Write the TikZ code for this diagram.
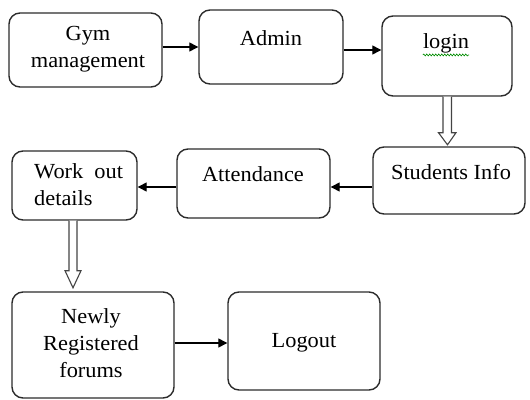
\documentclass[tikz,border=0pt]{standalone}
\usepackage{fontspec}
\setmainfont{Liberation Serif}
\usetikzlibrary{calc,arrows.meta,decorations.pathmorphing}
\definecolor{edge}{HTML}{2B2B2B}
\definecolor{dbl}{HTML}{444444}
\begin{document}
\begin{tikzpicture}[x=1pt,y=-1pt,
  box/.style={draw=edge,line width=1.4pt,rounded corners=11pt,inner sep=0pt},
  txt/.style={font=\fontsize{21.5}{27}\selectfont,align=center,inner sep=0pt,text=black,xscale=1.04},
  arr/.style={draw=black,line width=1.3pt,-{Triangle[length=9pt,width=9pt]}},
  dblarrow/.style={draw=dbl,line width=1.1pt,fill=white,line join=miter}]
\useasboundingbox (0,0) rectangle (530,399);
% boxes
\node[box,minimum width=153pt,minimum height=74pt] (gym) at (85.5,50) {};
\node[box,minimum width=144pt,minimum height=74pt] (admin) at (271,47) {};
\node[box,minimum width=130pt,minimum height=80pt] (login) at (447,56) {};
\node[box,minimum width=152pt,minimum height=67pt] (students) at (449,180.5) {};
\node[box,minimum width=153pt,minimum height=69pt] (attendance) at (253.5,183.5) {};
\node[box,minimum width=125pt,minimum height=69pt] (work) at (74.5,185.5) {};
\node[box,minimum width=162pt,minimum height=106pt] (newly) at (93,345) {};
\node[box,minimum width=152pt,minimum height=98pt] (logout) at (304,341) {};
% texts
\node[txt] (tgym) at (88,49) {Gym\\management};
\node[txt] (tadmin) at (271,38) {Admin};
\node[txt] (tlogin) at (446,43) {login};
\node[txt] (tstudents) at (451,172) {Students Info};
\node[txt] (tattendance) at (253,174) {Attendance};
\node[txt,align=left,anchor=west] (twork) at (34,185) {Work\ \ out\\details};
\node[txt] (tnewly) at (91,343) {Newly\\Registered\\forums};
\node[txt] (tlogout) at (304,343) {Logout};
% spell-check squiggle
\draw[green!55!black,line width=0.6pt,decorate,decoration={snake,amplitude=1pt,segment length=3pt}]
  ($(tlogin.south west)+(0,2)$) -- ($(tlogin.south east)+(0,2)$);
% single arrows
\draw[arr] (gym.east |- admin.west) -- (admin.west);
\draw[arr] ([yshift=-3pt]admin.east) -- ([yshift=-3pt]admin.east -| login.west);
\draw[arr] ([yshift=-6.5pt]students.west) -- ([yshift=-6.5pt]students.west -| attendance.east);
\draw[arr] ([yshift=-3.5pt]attendance.west) -- ([yshift=-3.5pt]attendance.west -| work.east);
\draw[arr] ([yshift=2pt]newly.east) -- ([yshift=2pt]newly.east -| logout.west);
% hollow double arrows
\draw[dblarrow] ($(login.south)+(-4,0)$) -- ++(0,36) -- ++(-4.5,0)
  -- ($(login.south |- students.north)+(0.5,-1.5)$)
  -- ($(login.south)+(9,36)$) -- ++(-4.5,0) -- ($(login.south)+(4.5,0)$);
\draw[dblarrow] ($(work.south)+(-5.5,0)$) -- ++(0,50) -- ++(-4,0)
  -- ($(work.south |- newly.north)+(-1.5,-3.5)$)
  -- ($(work.south)+(6.5,50)$) -- ++(-4,0) -- ($(work.south)+(2.5,0)$);
\end{tikzpicture}
\end{document}
